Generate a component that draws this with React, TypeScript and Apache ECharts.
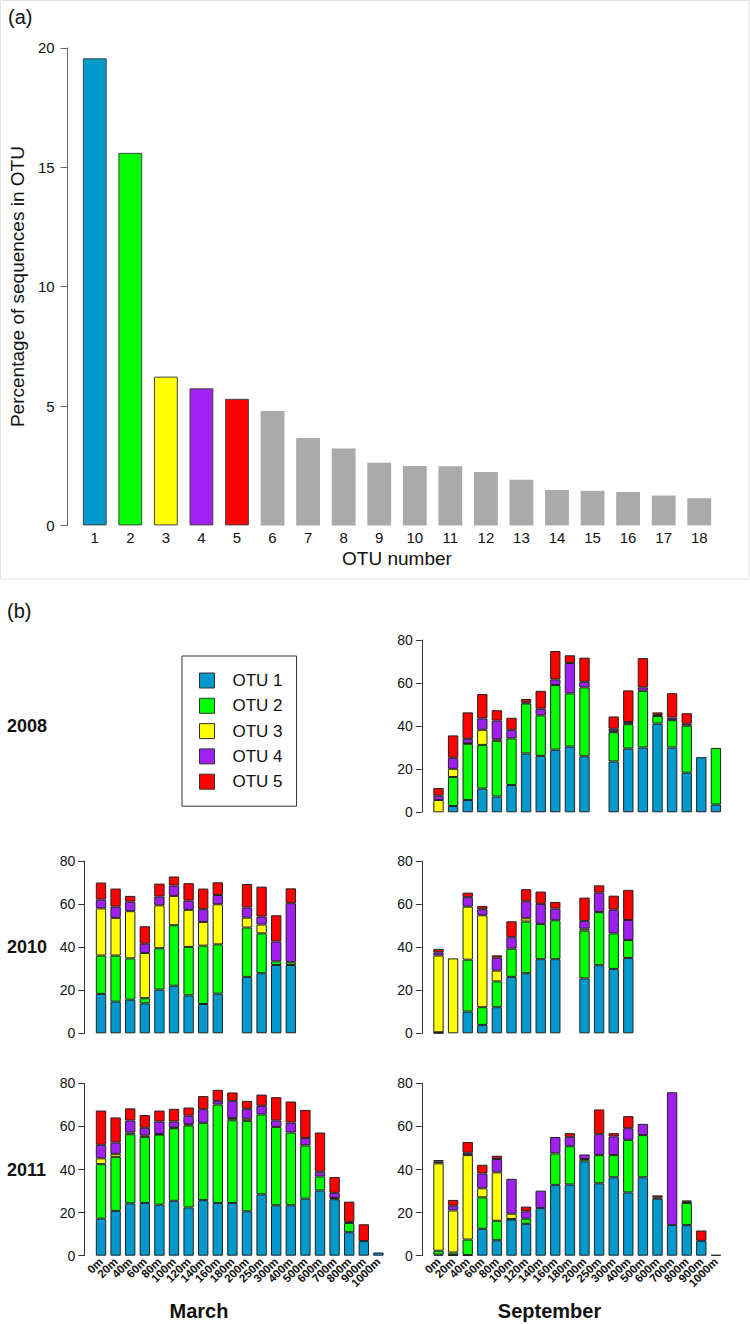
import React, { useEffect, useRef } from "react";
import * as echarts from "echarts";

// ---------- Panel (a) ----------
const otuNumbers = ["1","2","3","4","5","6","7","8","9","10","11","12","13","14","15","16","17","18"];
const otuPercent = [19.56, 15.6, 6.23, 5.74, 5.3, 4.79, 3.66, 3.22, 2.62, 2.49, 2.48, 2.24, 1.91, 1.48, 1.45, 1.4, 1.25, 1.14];

// ---------- Panel (b) ----------
const depths = ["0m","20m","40m","60m","80m","100m","120m","140m","160m","180m","200m","250m","300m","400m","500m","600m","700m","800m","900m","1000m"];
const otuNames = ["OTU 1", "OTU 2", "OTU 3", "OTU 4", "OTU 5"];
const otuColors = ["#0099CC", "#00FF00", "#FFFF00", "#A020F0", "#FF0000"];
const otherColor = "#AAAAAA";
const N = null;

// September 2008
const sep2008_otu1 = [0, 2.9, 5.7, 11, 7.3, 12.7, 27.3, 26.2, 29.1, 30.5, 26, N, 23.6, 29.6, 30.1, 41.2, 30.1, 18.4, 25.6, 3.6];
const sep2008_otu2 = [0, 13.5, 26.1, 20.3, 25.9, 21.6, 23.2, 18.8, 30, 24.7, 32, N, 13.6, 11.3, 26.3, 3.5, 12.7, 21.8, 0, 26.3];
const sep2008_otu3 = [5.7, 3.8, 0.3, 7, 0.7, 0, 0, 0, 0, 0, 0, N, 0.4, 0, 0, 0, 0, 0, 0, 0];
const sep2008_otu4 = [2, 5.1, 2, 5.3, 8.7, 4, 0.5, 3.1, 2.6, 14.1, 2.6, N, 1.2, 1, 1.6, 0.5, 1.2, 0.9, 0, 0];
const sep2008_otu5 = [3.6, 10.4, 12.3, 11.3, 4.8, 5.6, 1.6, 8.3, 13.2, 3.6, 11.2, N, 5.7, 14.7, 13.6, 1.2, 11.3, 4.9, 0, 0];

// March 2010
const mar2010_otu1 = [18.3, 14.7, 15.6, 13.9, 20.3, 22.1, 17.6, 13.6, 18.4, N, 26.2, 27.9, 31.7, 31.7, N, N, N, N, N, N];
const mar2010_otu2 = [17.8, 21.4, 19.2, 2.4, 19.2, 28.1, 22.5, 27.1, 22.9, N, 22.9, 18.5, 1.7, 1.3, N, N, N, N, N, N];
const mar2010_otu3 = [21.9, 17.5, 21.9, 21, 19.9, 13.6, 17.2, 11, 18.6, N, 4.6, 4.1, 0, 0, N, N, N, N, N, N];
const mar2010_otu4 = [4.1, 5.2, 4.4, 4.3, 4.1, 4.8, 4.3, 5.9, 4.3, N, 4.7, 3.7, 9.2, 27.4, N, N, N, N, N, N];
const mar2010_otu5 = [7.9, 8.4, 2.7, 8.1, 6, 4.2, 8.1, 9.6, 5.9, N, 10.9, 13.9, 12.2, 6.9, N, N, N, N, N, N];

// September 2010
const sep2010_otu1 = [0.2, 0, 10.1, 3.9, 12.1, 26.2, 27.9, 34.4, 34.4, N, 25.5, 31.6, 29.9, 35, N, N, N, N, N, N];
const sep2010_otu2 = [0.3, 0, 24.1, 8.2, 12, 13.1, 24, 16.4, 18.1, N, 22.2, 24.7, 16.5, 8.3, N, N, N, N, N, N];
const sep2010_otu3 = [35.6, 34.8, 24.6, 42.7, 5, 0, 1.5, 0, 0, N, 0.9, 0, 0, 0, N, N, N, N, N, N];
const sep2010_otu4 = [1.5, 0, 4.4, 2.8, 6, 5.3, 7.9, 9.3, 5.4, N, 3.6, 9, 11, 9.3, N, N, N, N, N, N];
const sep2010_otu5 = [1.6, 0, 2.1, 1.5, 1.1, 7.4, 5.6, 5.7, 3.1, N, 10.8, 3.4, 6.5, 14, N, N, N, N, N, N];

// March 2011
const mar2011_otu1 = [17.2, 20.8, 24.3, 24.5, 23.7, 25.5, 22.4, 25.8, 24.5, 24.5, 20.6, 28.5, 23.4, 23.4, 26.5, 30.3, 26.2, 10.9, 6.8, 1.5];
const mar2011_otu2 = [25.3, 25.1, 32.1, 30.7, 32.5, 33.7, 38.1, 35.9, 45.7, 38.4, 42, 37.1, 36.4, 33.8, 24.7, 6.5, 0.6, 4.3, 0, 0];
const mar2011_otu3 = [2.7, 1.4, 0.8, 0.6, 0.3, 0.3, 0.5, 0, 0, 1, 1, 0, 0, 0, 0, 0, 0, 0, 0, 0];
const mar2011_otu4 = [6.3, 5.3, 5.6, 3.6, 5.8, 2.8, 4, 6.3, 1.7, 8, 4.6, 4, 3, 4.6, 3.4, 2.2, 2.4, 0.5, 0, 0];
const mar2011_otu5 = [15.9, 11.6, 5.6, 5.9, 5.1, 5.9, 3.8, 6.1, 5.1, 3.9, 3.7, 5.2, 10.8, 9.8, 13.1, 18.2, 7.3, 9.4, 7.8, 0];

// September 2011
const sep2011_otu1 = [0.5, 0.3, 0.3, 12.5, 7.2, 16.8, 14.8, 22.1, 32.9, 33.1, 43.8, 33.6, 36.4, 29.4, 36.4, 26.5, 14.3, 14.2, 6.9, 0.4];
const sep2011_otu2 = [1.8, 1.2, 7.2, 14.6, 9, 0.3, 2.4, 0, 14.6, 17.7, 1.1, 13.1, 10.3, 24.4, 19.6, 0, 0, 10.3, 0, 0];
const sep2011_otu3 = [40.6, 19.5, 39.2, 4.2, 22.5, 2.4, 0, 0, 0, 0, 0, 0, 0, 0, 0, 0, 0, 0, 0, 0];
const sep2011_otu4 = [0.8, 2.2, 1.1, 6.9, 6.2, 16.2, 3.4, 8.1, 7.6, 4.4, 2.1, 9.7, 8.7, 5.4, 5.2, 0.5, 61.6, 0.6, 0, 0];
const sep2011_otu5 = [0.7, 2.7, 5.0, 4, 1.5, 0, 2.2, 0, 0, 1.7, 0, 11.5, 1.5, 5.6, 0, 1.0, 0, 0.5, 4.8, 0];

const yTicksB = [0, 20, 40, 60, 80];
const yTicksA = [0, 5, 10, 15, 20];

const FONT = "'Liberation Sans', Arial, Helvetica, sans-serif";

export default function App() {
  const ref = useRef<HTMLDivElement>(null);

  useEffect(() => {
    if (!ref.current) return;
    const chart = echarts.init(ref.current, null, { renderer: "svg" });

    const subplots = [
      { grid: { left: 431.2, top: 640, width: 292, height: 172.3 }, data: [sep2008_otu1, sep2008_otu2, sep2008_otu3, sep2008_otu4, sep2008_otu5], labels: false },
      { grid: { left: 93.7, top: 861, width: 292, height: 172.3 }, data: [mar2010_otu1, mar2010_otu2, mar2010_otu3, mar2010_otu4, mar2010_otu5], labels: false },
      { grid: { left: 431.2, top: 861, width: 292, height: 172.3 }, data: [sep2010_otu1, sep2010_otu2, sep2010_otu3, sep2010_otu4, sep2010_otu5], labels: false },
      { grid: { left: 93.7, top: 1083.4, width: 292, height: 172.3 }, data: [mar2011_otu1, mar2011_otu2, mar2011_otu3, mar2011_otu4, mar2011_otu5], labels: true },
      { grid: { left: 431.2, top: 1083.4, width: 292, height: 172.3 }, data: [sep2011_otu1, sep2011_otu2, sep2011_otu3, sep2011_otu4, sep2011_otu5], labels: true },
    ];

    const grids: any[] = [{ left: 73, top: 47.8, width: 644, height: 477.6 }];
    const xAxes: any[] = [
      {
        type: "category",
        gridIndex: 0,
        data: otuNumbers,
        axisLine: { show: false },
        axisTick: { show: false },
        axisLabel: { fontSize: 15, color: "#111", margin: 5, interval: 0, fontFamily: FONT },
        name: "OTU number",
        nameLocation: "middle",
        nameGap: 24,
        nameTextStyle: { fontSize: 19, color: "#111", fontFamily: FONT, verticalAlign: "top" },
      },
    ];
    const yAxes: any[] = [
      {
        type: "value",
        gridIndex: 0,
        min: 0,
        max: 20,
        interval: 5,
        offset: 9.4,
        splitLine: { show: false },
        axisLine: { show: true, lineStyle: { color: "#666", width: 1 } },
        axisTick: { show: true, length: 7, lineStyle: { color: "#666" } },
        axisLabel: { fontSize: 15, color: "#111", margin: 13, fontFamily: FONT },
        name: "Percentage of sequences in OTU",
        nameLocation: "middle",
        nameGap: 36,
        nameRotate: 90,
        nameTextStyle: { fontSize: 19, color: "#111", fontFamily: FONT },
      },
    ];
    const series: any[] = [
      {
        type: "bar",
        name: "Percentage",
        xAxisIndex: 0,
        yAxisIndex: 0,
        barCategoryGap: "33%",
        data: otuPercent.map((v, i) => ({
          value: v,
          itemStyle: i < 5
            ? { color: otuColors[i], borderColor: "#444", borderWidth: 1 }
            : { color: otherColor, borderWidth: 0 },
        })),
      },
    ];

    subplots.forEach((sp, k) => {
      const gi = k + 1;
      grids.push(sp.grid);
      xAxes.push({
        type: "category",
        gridIndex: gi,
        data: depths,
        axisLine: { show: false },
        axisTick: { show: false },
        axisLabel: sp.labels
          ? { show: true, rotate: 45, interval: 0, fontSize: 11.5, fontWeight: "bold", color: "#111", margin: 4, fontFamily: FONT }
          : { show: false },
      });
      yAxes.push({
        type: "value",
        gridIndex: gi,
        min: yTicksB[0],
        max: yTicksB[yTicksB.length - 1],
        interval: 20,
        offset: 9.4,
        splitLine: { show: false },
        axisLine: { show: true, lineStyle: { color: "#333", width: 1 } },
        axisTick: { show: true, length: 6, lineStyle: { color: "#333" } },
        axisLabel: { fontSize: 14, color: "#111", margin: 9, fontFamily: FONT },
      });
      sp.data.forEach((arr, j) => {
        series.push({
          type: "bar",
          name: otuNames[j],
          stack: "s" + gi,
          xAxisIndex: gi,
          yAxisIndex: gi,
          barCategoryGap: "29%",
          itemStyle: { color: otuColors[j], borderColor: "#222", borderWidth: 1 },
          data: arr.map((v) => (v === null || v === 0 ? "-" : v)),
        });
      });
    });

    const option: any = {
      animation: false,
      backgroundColor: "#ffffff",
      textStyle: { fontFamily: FONT },
      grid: grids,
      xAxis: xAxes,
      yAxis: yAxes,
      series,
      legend: {
        data: otuNames,
        orient: "vertical",
        left: 182,
        top: 656,
        padding: [16, 14, 16, 17],
        itemWidth: 15,
        itemHeight: 15,
        itemGap: 8.3,
        icon: "rect",
        selectedMode: false,
        borderColor: "#333",
        borderWidth: 1,
        itemStyle: { borderColor: "#333", borderWidth: 1 },
        textStyle: { fontSize: 17, color: "#111", fontFamily: FONT, padding: [0, 0, 0, 13] },
      },
      graphic: [
        { type: "rect", shape: { x: 0.5, y: 0.5, width: 748.5, height: 578.5 }, style: { fill: "none", stroke: "#e2e2e2", lineWidth: 1 }, silent: true },
        { type: "text", left: 8, top: 7, style: { text: "(a)", fontSize: 20, fill: "#111", fontFamily: FONT } },
        { type: "text", left: 7, top: 601, style: { text: "(b)", fontSize: 20, fill: "#111", fontFamily: FONT } },
        { type: "text", x: 7, y: 726, style: { text: "2008", fontSize: 18, fontWeight: "bold", fill: "#111", fontFamily: FONT, verticalAlign: "middle" } },
        { type: "text", x: 7, y: 947, style: { text: "2010", fontSize: 18, fontWeight: "bold", fill: "#111", fontFamily: FONT, verticalAlign: "middle" } },
        { type: "text", x: 7, y: 1169.6, style: { text: "2011", fontSize: 18, fontWeight: "bold", fill: "#111", fontFamily: FONT, verticalAlign: "middle" } },
        { type: "text", x: 199, y: 1311, style: { text: "March", fontSize: 20, fontWeight: "bold", fill: "#111", fontFamily: FONT, align: "center", verticalAlign: "middle" } },
        { type: "text", x: 549.5, y: 1311, style: { text: "September", fontSize: 20, fontWeight: "bold", fill: "#111", fontFamily: FONT, align: "center", verticalAlign: "middle" } },
      ],
    };

    chart.setOption(option);
    return () => chart.dispose();
  }, []);

  return (
    <div
      ref={ref}
      style={{ position: "absolute", left: 0, top: 0, width: 750, height: 1324, background: "#fff" }}
    />
  );
}
